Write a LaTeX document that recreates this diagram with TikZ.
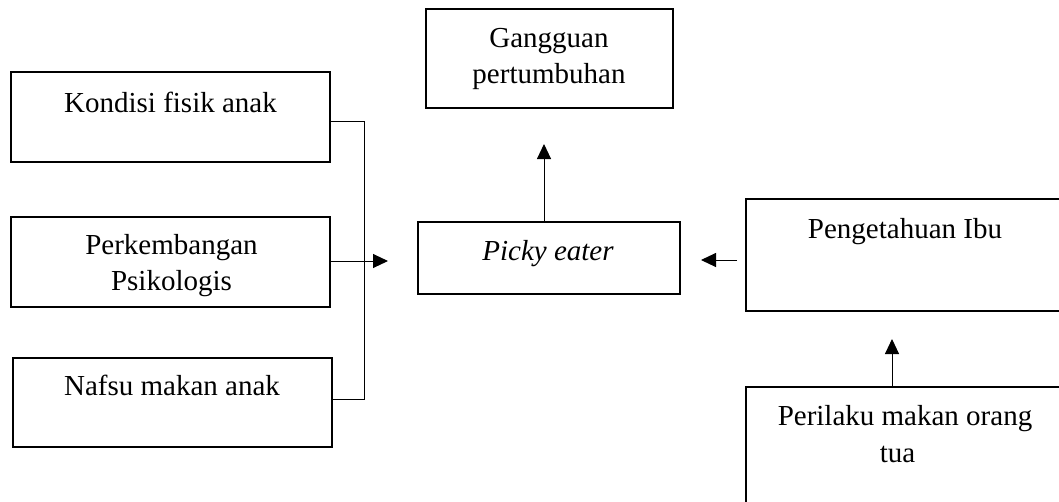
\documentclass[tikz,border=0pt]{standalone}
\usepackage{fontspec}
\setmainfont{Liberation Serif}
\usetikzlibrary{arrows.meta}
\begin{document}
\begin{tikzpicture}[x=1pt,y=-1pt,
  box/.style={draw,line width=2pt,inner sep=0pt},
  txt/.style={anchor=base,inner sep=0pt,font=\fontsize{29}{35}\selectfont},
  conn/.style={line width=1pt},
  arr/.style={line width=1pt,-{Triangle[length=15pt,width=14pt]}}]
\clip (0,0) rectangle (1059,501);
\fill[white] (0,0) rectangle (1059,501);
% boxes
\node[box,minimum width=319pt,minimum height=90pt] (kondisi) at (170.5,117) {};
\node[box,minimum width=319pt,minimum height=90pt] (perk) at (170.5,262) {};
\node[box,minimum width=319pt,minimum height=89pt] (nafsu) at (172.5,402.5) {};
\node[box,minimum width=247pt,minimum height=99pt] (gang) at (549.5,58.5) {};
\node[box,minimum width=262pt,minimum height=72pt] (picky) at (549,258) {};
\node[box,minimum width=318pt,minimum height=112pt] (peng) at (905,255) {};
\node[box,minimum width=318pt,minimum height=140pt] (peril) at (905,457) {};
% texts
\node[txt] (t1) at (170.5,112) {Kondisi fisik anak};
\node[txt] (t2a) at (171.5,254) {Perkembangan};
\node[txt] (t2b) at (171.5,290) {Psikologis};
\node[txt] (t3) at (172,395) {Nafsu makan anak};
\node[txt] (t4a) at (549,47) {Gangguan};
\node[txt] (t4b) at (549,83) {pertumbuhan};
\node[txt] (t5) at (548,260) {\itshape Picky eater};
\node[txt] (t6) at (905,238) {Pengetahuan Ibu};
\node[txt] (t7a) at (905,425) {Perilaku makan orang};
\node[txt] (t7b) at (897.5,462) {tua};
% connectors
\coordinate (jtop) at (364,121);
\coordinate (jbot) at (364,399);
\coordinate (jtip) at (388,261);
\draw[conn] (kondisi.east |- jtop) -- (jtop) -- (jbot) -- (nafsu.east |- jbot);
\draw[arr] (perk.east |- jtip) -- (jtip);
\coordinate (gtip) at (544,144);
\draw[arr] (picky.north -| gtip) -- (gtip);
\coordinate (ptip) at (701,260);
\draw[arr] ([xshift=-8pt]peng.west |- ptip) -- (ptip);
\coordinate (itip) at (892,339);
\draw[arr] (peril.north -| itip) -- (itip);
\end{tikzpicture}
\end{document}
